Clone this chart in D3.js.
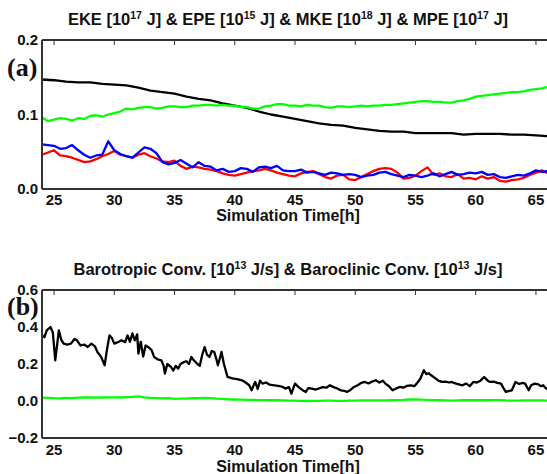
<!DOCTYPE html>
<html>
<head>
<meta charset="utf-8">
<script src="https://cdn.jsdelivr.net/npm/d3@7"></script>
<style>
  body { margin: 0; background: #fff; }
  svg { display: block; font-family: "Liberation Sans", Arial, sans-serif; }
  .tick-label { font-size: 15px; font-weight: bold; fill: #111; }
  .axis-title { font-size: 16px; font-weight: bold; fill: #111; }
  .panel-title { font-size: 16.5px; font-weight: bold; fill: #111; }
  .panel-tag { font-family: "Liberation Serif", "Times New Roman", serif; font-size: 26px; font-weight: bold; fill: #111; }
  .line { fill: none; stroke-width: 2.3; stroke-linejoin: round; }
</style>
</head>
<body>
<svg id="chart" width="547" height="474"></svg>
<script>
// x ticks (hours)
const xTicks = [25, 30, 35, 40, 45, 50, 55, 60, 65];
const yTicksA = [0.0, 0.1, 0.2];
const yTicksB = [-0.2, 0.0, 0.2, 0.4, 0.6];

// half-hour sampling grid 24 .. 66
const halfHours = d3.range(24, 66.001, 0.5);
const wholeHours = d3.range(24, 66.001, 1);

// panel (a) series
const mke = [0.147, 0.146, 0.144, 0.143, 0.143, 0.141, 0.140, 0.139, 0.136, 0.132,
  0.130, 0.128, 0.124, 0.121, 0.119, 0.115, 0.112, 0.109, 0.104, 0.100,
  0.097, 0.094, 0.091, 0.088, 0.086, 0.085, 0.082, 0.080, 0.078, 0.077,
  0.077, 0.075, 0.075, 0.075, 0.075, 0.073, 0.074, 0.074, 0.074, 0.073,
  0.073, 0.072, 0.071];

const mpe = [0.096, 0.091, 0.093, 0.095, 0.094, 0.092, 0.095, 0.094, 0.098, 0.099,
  0.097, 0.100, 0.102, 0.104, 0.108, 0.107, 0.109, 0.110, 0.110, 0.108,
  0.109, 0.111, 0.111, 0.110, 0.110, 0.112, 0.112, 0.113, 0.113, 0.112,
  0.113, 0.112, 0.112, 0.110, 0.110, 0.108, 0.108, 0.111, 0.112, 0.114,
  0.114, 0.112, 0.112, 0.111, 0.113, 0.112, 0.112, 0.110, 0.109, 0.111,
  0.111, 0.110, 0.111, 0.112, 0.111, 0.112, 0.112, 0.113, 0.113, 0.114,
  0.115, 0.116, 0.117, 0.118, 0.118, 0.117, 0.117, 0.116, 0.116, 0.118,
  0.119, 0.121, 0.124, 0.125, 0.126, 0.127, 0.128, 0.129, 0.130, 0.130,
  0.131, 0.133, 0.134, 0.135, 0.137];

const eke = [0.046, 0.049, 0.052, 0.045, 0.044, 0.042, 0.039, 0.036, 0.037, 0.040,
  0.044, 0.047, 0.051, 0.046, 0.044, 0.042, 0.046, 0.048, 0.044, 0.041,
  0.037, 0.036, 0.038, 0.031, 0.027, 0.030, 0.029, 0.027, 0.026, 0.024,
  0.021, 0.019, 0.018, 0.020, 0.022, 0.024, 0.025, 0.027, 0.025, 0.022,
  0.020, 0.018, 0.017, 0.021, 0.023, 0.024, 0.020, 0.016, 0.014, 0.018,
  0.019, 0.013, 0.012, 0.016, 0.020, 0.024, 0.027, 0.028, 0.027, 0.022,
  0.014, 0.015, 0.018, 0.024, 0.029, 0.019, 0.021, 0.017, 0.016, 0.020,
  0.014, 0.015, 0.013, 0.017, 0.014, 0.016, 0.011, 0.010, 0.012, 0.013,
  0.015, 0.019, 0.022, 0.025, 0.021];

const epe = [0.060, 0.059, 0.058, 0.054, 0.055, 0.059, 0.052, 0.046, 0.042, 0.045,
  0.046, 0.064, 0.052, 0.047, 0.044, 0.042, 0.049, 0.056, 0.054, 0.048,
  0.036, 0.033, 0.035, 0.039, 0.034, 0.029, 0.036, 0.031, 0.030, 0.025,
  0.027, 0.023, 0.024, 0.028, 0.027, 0.023, 0.029, 0.030, 0.028, 0.031,
  0.025, 0.024, 0.024, 0.026, 0.022, 0.023, 0.021, 0.019, 0.022, 0.021,
  0.019, 0.020, 0.019, 0.016, 0.018, 0.019, 0.022, 0.023, 0.020, 0.018,
  0.016, 0.019, 0.018, 0.016, 0.018, 0.021, 0.017, 0.020, 0.023, 0.019,
  0.020, 0.022, 0.021, 0.023, 0.019, 0.020, 0.016, 0.015, 0.017, 0.019,
  0.018, 0.021, 0.025, 0.023, 0.024];

// panel (b) series
const barotropic = [0.018, 0.017, 0.015, 0.014, 0.017, 0.016, 0.018, 0.019, 0.020, 0.018,
  0.019, 0.020, 0.020, 0.019, 0.021, 0.022, 0.025, 0.020, 0.017, 0.016,
  0.014, 0.015, 0.012, 0.013, 0.013, 0.015, 0.015, 0.017, 0.016, 0.013,
  0.012, 0.009, 0.008, 0.007, 0.006, 0.006, 0.005, 0.005, 0.004, 0.004,
  0.003, 0.002, 0.002, 0.001, 0.000, 0.001, 0.001, 0.002, 0.002, 0.001,
  0.001, 0.002, 0.002, 0.003, 0.003, 0.003, 0.003, 0.003, 0.004, 0.005,
  0.006, 0.008, 0.009, 0.007, 0.006, 0.005, 0.004, 0.003, 0.002, 0.003,
  0.004, 0.004, 0.004, 0.005, 0.004, 0.005, 0.005, 0.003, 0.002, 0.002,
  0.003, 0.003, 0.003, 0.003, 0.002];

const baroclinicT = [24.0, 24.2, 24.4, 24.7, 24.9, 25.1, 25.4, 25.6, 25.8, 26.1,
  26.4, 26.7, 26.9, 27.2, 27.5, 27.8, 28.1, 28.4, 28.6, 28.9,
  29.2, 29.4, 29.6, 29.8, 30.0, 30.3, 30.6, 30.9, 31.1, 31.3,
  31.5, 31.7, 31.9, 32.0, 32.2, 32.4, 32.6, 32.8, 33.1, 33.3,
  33.6, 33.9, 34.1, 34.2, 34.4, 34.7, 34.9, 35.1, 35.3, 35.5,
  35.8, 36.0, 36.2, 36.4, 36.6, 36.9, 37.1, 37.3, 37.5, 37.7,
  37.9, 38.1, 38.3, 38.5, 38.6, 38.8, 38.9, 39.1, 39.4, 39.8,
  40.2, 40.6, 40.9, 41.2, 41.4, 41.6, 41.7, 41.9, 42.1, 42.3,
  42.6, 42.9, 43.3, 43.6, 43.9, 44.2, 44.5, 44.7, 45.0, 45.3,
  45.6, 45.9, 46.1, 46.4, 46.7, 47.0, 47.3, 47.6, 47.9, 48.2,
  48.5, 48.8, 49.1, 49.3, 49.6, 49.9, 50.2, 50.5, 50.8, 51.1,
  51.4, 51.7, 52.0, 52.3, 52.5, 52.8, 53.1, 53.4, 53.7, 54.0,
  54.3, 54.6, 54.9, 55.1, 55.4, 55.7, 55.9, 56.1, 56.3, 56.6,
  56.9, 57.2, 57.5, 57.8, 58.0, 58.3, 58.6, 58.9, 59.2, 59.5,
  59.8, 60.1, 60.4, 60.7, 61.0, 61.2, 61.5, 61.8, 62.1, 62.3,
  62.5, 62.8, 63.0, 63.3, 63.6, 63.9, 64.1, 64.4, 64.6, 64.9,
  65.2, 65.4, 65.6, 65.8, 66.0];

const baroclinic = [0.355, 0.345, 0.382, 0.400, 0.370, 0.220, 0.382, 0.330, 0.310, 0.305,
  0.310, 0.335, 0.328, 0.300, 0.305, 0.292, 0.310, 0.295, 0.265, 0.240,
  0.193, 0.280, 0.355, 0.340, 0.310, 0.318, 0.328, 0.318, 0.355, 0.320,
  0.365, 0.328, 0.360, 0.256, 0.320, 0.240, 0.300, 0.292, 0.275, 0.238,
  0.225, 0.220, 0.190, 0.148, 0.200, 0.184, 0.165, 0.190, 0.175, 0.200,
  0.211, 0.215, 0.200, 0.238, 0.220, 0.200, 0.190, 0.250, 0.292, 0.250,
  0.238, 0.270, 0.265, 0.220, 0.193, 0.240, 0.265, 0.200, 0.130, 0.122,
  0.118, 0.112, 0.100, 0.085, 0.058, 0.090, 0.103, 0.065, 0.110, 0.094,
  0.100, 0.088, 0.085, 0.082, 0.078, 0.067, 0.075, 0.040, 0.094, 0.075,
  0.060, 0.049, 0.070, 0.067, 0.062, 0.068, 0.075, 0.072, 0.085, 0.075,
  0.068, 0.058, 0.055, 0.049, 0.060, 0.076, 0.085, 0.098, 0.103, 0.095,
  0.105, 0.112, 0.100, 0.110, 0.094, 0.080, 0.058, 0.068, 0.076, 0.072,
  0.082, 0.085, 0.080, 0.094, 0.120, 0.166, 0.145, 0.150, 0.139, 0.125,
  0.110, 0.103, 0.105, 0.100, 0.103, 0.095, 0.090, 0.085, 0.095, 0.080,
  0.103, 0.100, 0.110, 0.130, 0.110, 0.103, 0.105, 0.098, 0.094, 0.070,
  0.049, 0.055, 0.058, 0.103, 0.092, 0.098, 0.094, 0.058, 0.085, 0.094,
  0.090, 0.080, 0.085, 0.070, 0.062];

const svg = d3.select("#chart");
const width = 547;

const x = d3.scaleLinear().domain([24, 66]).range([42, 548]);

const panels = [
  {
    tag: "(a)",
    title: [["EKE [10", ""], ["17", "sup"], [" J] & EPE [10", ""], ["15", "sup"],
            [" J] & MKE [10", ""], ["18", "sup"], [" J] & MPE [10", ""], ["17", "sup"], [" J]", ""]],
    titleY: 25,
    top: 40, bottom: 189,
    domain: [0, 0.2],
    ticks: yTicksA,
    tagY: 76,
    labelY: 205,
    axisTitleY: 221,
    series: [
      { t: wholeHours, v: mke, color: "#000000" },
      { t: halfHours, v: mpe, color: "#00ff00" },
      { t: halfHours, v: eke, color: "#ff0000" },
      { t: halfHours, v: epe, color: "#0000ff" }
    ]
  },
  {
    tag: "(b)",
    title: [["Barotropic Conv. [10", ""], ["13", "sup"], [" J/s] & Baroclinic Conv. [10", ""], ["13", "sup"], [" J/s]", ""]],
    titleY: 275,
    top: 290, bottom: 438,
    domain: [-0.2, 0.6],
    ticks: yTicksB,
    tagY: 315,
    labelY: 455,
    axisTitleY: 472,
    series: [
      { t: baroclinicT, v: baroclinic, color: "#000000" },
      { t: halfHours, v: barotropic, color: "#00ff00" }
    ]
  }
];

panels.forEach(p => drawPanel(p));

function drawPanel(p) {
  const y = d3.scaleLinear().domain(p.domain).range([p.bottom, p.top]);
  const g = svg.append("g");

  // data lines
  const line = d3.line()
    .x(d => x(d[0]))
    .y(d => y(d[1]));

  p.series.forEach(s => {
    g.append("path")
      .datum(s.t.map((t, i) => [t, s.v[i]]))
      .attr("class", "line")
      .attr("stroke", s.color)
      .attr("d", line);
  });

  // frame: left, top, bottom
  const axisColor = "#333";
  g.append("line").attr("x1", x(24)).attr("x2", x(24)).attr("y1", p.top).attr("y2", p.bottom)
    .attr("stroke", axisColor).attr("stroke-width", 2);
  g.append("line").attr("x1", x(24)).attr("x2", width).attr("y1", p.top).attr("y2", p.top)
    .attr("stroke", axisColor).attr("stroke-width", 2);
  g.append("line").attr("x1", x(24)).attr("x2", width).attr("y1", p.bottom).attr("y2", p.bottom)
    .attr("stroke", axisColor).attr("stroke-width", 2);

  // top inward ticks
  g.selectAll(".top-tick")
    .data(xTicks)
    .join("line")
    .attr("x1", d => x(d)).attr("x2", d => x(d))
    .attr("y1", p.top).attr("y2", p.top + 5)
    .attr("stroke", axisColor).attr("stroke-width", 1);

  // x tick labels
  g.selectAll(".xlab")
    .data(xTicks)
    .join("text")
    .attr("class", "tick-label")
    .attr("x", d => x(d))
    .attr("y", p.labelY)
    .attr("text-anchor", "middle")
    .text(d => d);

  // y tick labels
  g.selectAll(".ylab")
    .data(p.ticks)
    .join("text")
    .attr("class", "tick-label")
    .attr("x", 38)
    .attr("y", d => y(d) + 5)
    .attr("text-anchor", "end")
    .text(d => (d < 0 ? "\u2212" : "") + Math.abs(d).toFixed(1));

  // axis title
  g.append("text")
    .attr("class", "axis-title")
    .attr("x", 288)
    .attr("y", p.axisTitleY)
    .attr("text-anchor", "middle")
    .text("Simulation Time[h]");

  // panel title with superscripts
  const title = g.append("text")
    .attr("class", "panel-title")
    .attr("x", 288)
    .attr("y", p.titleY)
    .attr("text-anchor", "middle");
  p.title.forEach(part => {
    const ts = title.append("tspan").text(part[0]);
    if (part[1] === "sup") ts.attr("font-size", "10.5px").attr("dy", -6);
    else ts.attr("dy", title.selectAll("tspan").size() > 1 ? 6 : 0);
  });

  // panel tag
  g.append("text")
    .attr("class", "panel-tag")
    .attr("x", 7)
    .attr("y", p.tagY)
    .text(p.tag);
}
</script>
</body>
</html>
